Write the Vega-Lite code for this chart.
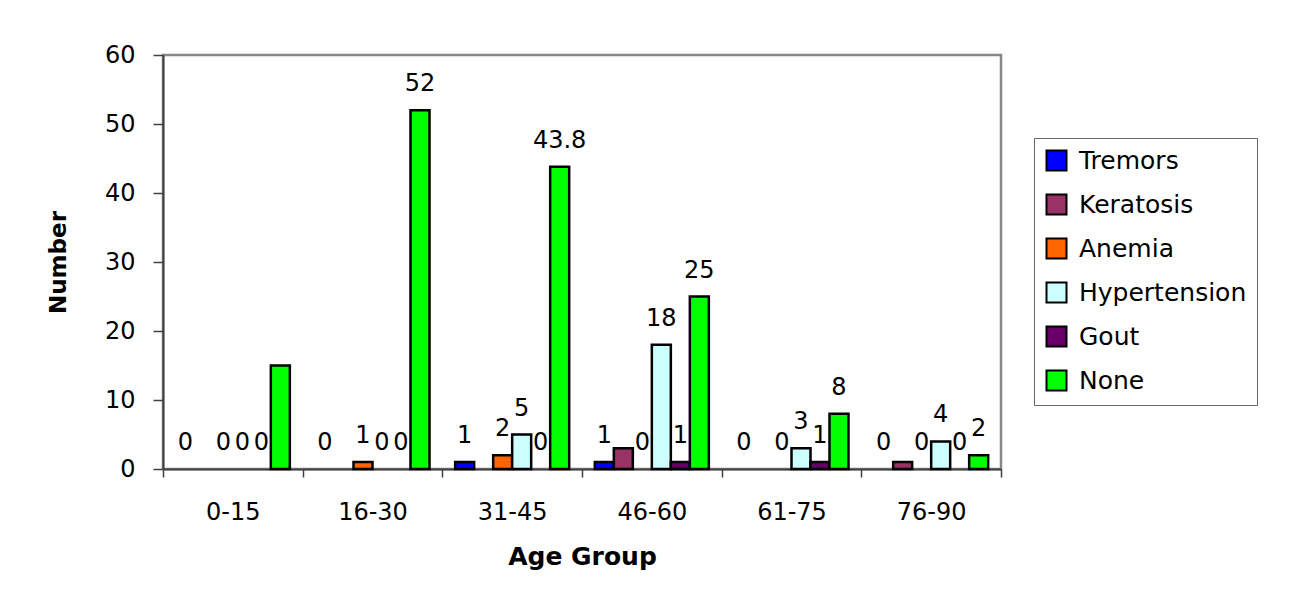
{
  "$schema": "https://vega.github.io/schema/vega-lite/v6.json",
  "width": 838,
  "height": 414,
  "autosize": {"type": "none"},
  "padding": {"left": 163, "top": 55, "right": 302, "bottom": 127},
  "background": "white",
  "config": {
    "font": "DejaVu Sans",
    "view": {"stroke": "#888888", "strokeWidth": 2.5},
    "axis": {
      "labelFont": "DejaVu Sans",
      "labelFontSize": 24,
      "labelColor": "black",
      "titleFont": "DejaVu Sans",
      "titleFontSize": 25,
      "titleFontWeight": "bold",
      "titleColor": "black",
      "domainColor": "#404040",
      "domainWidth": 2,
      "tickColor": "#404040",
      "tickWidth": 1.5,
      "grid": false
    },
    "legend": {
      "labelFont": "DejaVu Sans",
      "labelFontSize": 25,
      "labelColor": "black",
      "labelLimit": 400,
      "symbolType": "square",
      "symbolSize": 400,
      "symbolStrokeColor": "black",
      "symbolStrokeWidth": 2,
      "padding": 10,
      "rowPadding": 15,
      "labelOffset": 10,
      "strokeColor": "#666666",
      "fillColor": "white"
    }
  },
  "data": {
    "values": [
      {"group": "0-15", "series": "Tremors", "value": 0, "label": "0"},
      {"group": "0-15", "series": "Keratosis", "value": 0, "label": null},
      {"group": "0-15", "series": "Anemia", "value": 0, "label": "0"},
      {"group": "0-15", "series": "Hypertension", "value": 0, "label": "0"},
      {"group": "0-15", "series": "Gout", "value": 0, "label": "0"},
      {"group": "0-15", "series": "None", "value": 15, "label": null},
      {"group": "16-30", "series": "Tremors", "value": 0, "label": "0"},
      {"group": "16-30", "series": "Keratosis", "value": 0, "label": null},
      {"group": "16-30", "series": "Anemia", "value": 1, "label": "1"},
      {"group": "16-30", "series": "Hypertension", "value": 0, "label": "0"},
      {"group": "16-30", "series": "Gout", "value": 0, "label": "0"},
      {"group": "16-30", "series": "None", "value": 52, "label": "52"},
      {"group": "31-45", "series": "Tremors", "value": 1, "label": "1"},
      {"group": "31-45", "series": "Keratosis", "value": 0, "label": null},
      {"group": "31-45", "series": "Anemia", "value": 2, "label": "2"},
      {"group": "31-45", "series": "Hypertension", "value": 5, "label": "5"},
      {"group": "31-45", "series": "Gout", "value": 0, "label": "0"},
      {"group": "31-45", "series": "None", "value": 43.8, "label": "43.8"},
      {"group": "46-60", "series": "Tremors", "value": 1, "label": "1"},
      {"group": "46-60", "series": "Keratosis", "value": 3, "label": null},
      {"group": "46-60", "series": "Anemia", "value": 0, "label": "0"},
      {"group": "46-60", "series": "Hypertension", "value": 18, "label": "18"},
      {"group": "46-60", "series": "Gout", "value": 1, "label": "1"},
      {"group": "46-60", "series": "None", "value": 25, "label": "25"},
      {"group": "61-75", "series": "Tremors", "value": 0, "label": "0"},
      {"group": "61-75", "series": "Keratosis", "value": 0, "label": null},
      {"group": "61-75", "series": "Anemia", "value": 0, "label": "0"},
      {"group": "61-75", "series": "Hypertension", "value": 3, "label": "3"},
      {"group": "61-75", "series": "Gout", "value": 1, "label": "1"},
      {"group": "61-75", "series": "None", "value": 8, "label": "8"},
      {"group": "76-90", "series": "Tremors", "value": 0, "label": "0"},
      {"group": "76-90", "series": "Keratosis", "value": 1, "label": null},
      {"group": "76-90", "series": "Anemia", "value": 0, "label": "0"},
      {"group": "76-90", "series": "Hypertension", "value": 4, "label": "4"},
      {"group": "76-90", "series": "Gout", "value": 0, "label": "0"},
      {"group": "76-90", "series": "None", "value": 2, "label": "2"}
    ]
  },
  "encoding": {
    "x": {
      "field": "group",
      "type": "nominal",
      "scale": {"domain": ["0-15", "16-30", "31-45", "46-60", "61-75", "76-90"], "paddingInner": 0, "paddingOuter": 0},
      "axis": {"title": "Age Group", "labelAngle": 0, "tickBand": "extent", "tickSize": 8, "labelPadding": 23, "titlePadding": 20}
    },
    "xOffset": {
      "field": "series",
      "type": "nominal",
      "scale": {"domain": ["Tremors", "Keratosis", "Anemia", "Hypertension", "Gout", "None"], "paddingInner": 0, "paddingOuter": 0.675}
    },
    "y": {
      "field": "value",
      "type": "quantitative",
      "scale": {"domain": [0, 60]},
      "axis": {"title": "Number", "titleFontSize": 23, "values": [0, 10, 20, 30, 40, 50, 60], "tickSize": 10, "labelPadding": 18, "titlePadding": 34}
    }
  },
  "layer": [
    {
      "transform": [{"filter": "datum.value > 0"}],
      "mark": {"type": "bar", "stroke": "black", "strokeWidth": 2.5},
      "encoding": {
        "color": {
          "field": "series",
          "type": "nominal",
          "scale": {
            "domain": ["Tremors", "Keratosis", "Anemia", "Hypertension", "Gout", "None"],
            "range": ["#0000FF", "#993366", "#FF6600", "#CCFFFF", "#660066", "#00FF00"]
          },
          "legend": {"title": null, "orient": "none", "legendX": 871, "legendY": 83}
        }
      }
    },
    {
      "transform": [{"filter": "datum.label != null"}],
      "mark": {"type": "text", "baseline": "alphabetic", "dy": -19, "fontSize": 24, "color": "black"},
      "encoding": {"text": {"field": "label", "type": "nominal"}}
    }
  ]
}
